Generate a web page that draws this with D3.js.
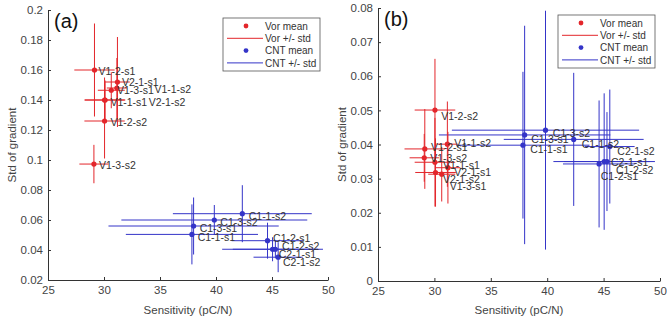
<!DOCTYPE html>
<html>
<head>
<meta charset="utf-8">
<script src="https://cdn.jsdelivr.net/npm/d3@7"></script>
<style>
  body { margin: 0; background: #fff; }
  svg { font-family: "Liberation Sans", Arial, sans-serif; }
</style>
</head>
<body>
<div id="chart"></div>
<script>
// samples (same order in every array)
const names = ['V1-1-s1', 'V1-1-s2', 'V1-2-s1', 'V1-2-s2', 'V1-3-s1', 'V1-3-s2', 'V2-1-s1', 'V2-1-s2',
               'C1-1-s1', 'C1-1-s2', 'C1-2-s1', 'C1-2-s2', 'C1-3-s1', 'C1-3-s2', 'C2-1-s1', 'C2-1-s2'];
const sensMean = [30.05, 31.15, 29.15, 30.05, 30.65, 29.1, 31.2, 30.1,
                  37.85, 42.35, 44.6, 45.05, 38.0, 39.85, 45.3, 45.55];
const sensStd = [1.8, 0.9, 1.8, 1.8, 1.2, 1.3, 1.1, 1.8,
                 5.9, 6.2, 3.2, 4.5, 7.6, 8.3, 3.8, 2.2];

// panel (a)
const gradMeanA = [0.140, 0.148, 0.160, 0.126, 0.1465, 0.0973, 0.152, 0.140,
                   0.0504, 0.0642, 0.0462, 0.0405, 0.056, 0.060, 0.0405, 0.0352];
const gradStdA = [0.015, 0.020, 0.031, 0.025, 0.012, 0.0128, 0.030, 0.013,
                  0.020, 0.019, 0.012, 0.008, 0.019, 0.010, 0.006, 0.010];
const labelXA = [30.57, 34.5, 29.52, 30.57, 31.16, 29.55, 31.6, 33.99,
                 38.36, 42.92, 45.1, 45.9, 38.54, 40.39, 45.6, 45.98];
const labelYA = [0.1382, 0.147, 0.1593, 0.1249, 0.1464, 0.0962, 0.1518, 0.1382,
                 0.0484, 0.0627, 0.0476, 0.0422, 0.0544, 0.0584, 0.0373, 0.0316];

// panel (b)
const gradMeanB = [0.0348, 0.0401, 0.0387, 0.0501, 0.0313, 0.0361, 0.0332, 0.0318,
                   0.0398, 0.0415, 0.0343, 0.0350, 0.0428, 0.0442, 0.0350, 0.0394];
const gradStdB = [0.013, 0.0125, 0.0117, 0.015, 0.008, 0.007, 0.0105, 0.010,
                  0.0215, 0.0195, 0.0186, 0.020, 0.032, 0.035, 0.0145, 0.0167];
const labelXB = [30.76, 31.76, 29.69, 30.61, 31.35, 29.63, 31.76, 30.76,
                 38.49, 43.06, 44.75, 46.1, 38.58, 40.5, 45.66, 46.22];
const labelYB = [0.0338, 0.0405, 0.0392, 0.0484, 0.0279, 0.0359, 0.0318, 0.0299,
                 0.0387, 0.0401, 0.0306, 0.0325, 0.0415, 0.0433, 0.0348, 0.0379];

const xTicks = [25, 30, 35, 40, 45, 50];
const yTicksA = [0.02, 0.04, 0.06, 0.08, 0.1, 0.12, 0.14, 0.16, 0.18, 0.2];
const yTicksB = [0, 0.01, 0.02, 0.03, 0.04, 0.05, 0.06, 0.07, 0.08];
const legendItems = ['Vor mean', 'Vor +/- std', 'CNT mean', 'CNT +/- std'];

const RED = '#e3262b';
const BLUE = '#3434c8';
const AX = '#333';
const TXT = '#444';

const svg = d3.select('#chart').append('svg')
    .attr('width', 667)
    .attr('height', 320);

function drawPanel(opt) {
    const x = d3.scaleLinear().domain([25, 50]).range([opt.left, opt.right]);
    const y = d3.scaleLinear().domain(opt.yDomain).range([opt.bottom, opt.top]);
    const g = svg.append('g');

    // axes, MATLAB style (ticks inside, no box)
    const xAxis = d3.axisBottom(x).tickValues(xTicks).tickSizeInner(-3).tickSizeOuter(0).tickPadding(6);
    const yAxis = d3.axisLeft(y).tickValues(opt.yTicks).tickSizeInner(-3).tickSizeOuter(0).tickPadding(5)
        .tickFormat(d => String(+d.toFixed(2)));
    const gx = g.append('g').attr('transform', `translate(0,${opt.bottom})`).call(xAxis);
    const gy = g.append('g').attr('transform', `translate(${opt.left},0)`).call(yAxis);
    [gx, gy].forEach(a => {
        a.select('.domain').attr('stroke', AX);
        a.selectAll('.tick line').attr('stroke', AX);
        a.selectAll('.tick text').attr('fill', TXT).style('font-size', '11.5px');
    });

    g.append('text')
        .attr('x', (opt.left + opt.right) / 2)
        .attr('y', 314)
        .attr('text-anchor', 'middle')
        .attr('fill', TXT)
        .style('font-size', '11.5px')
        .text('Sensitivity (pC/N)');
    g.append('text')
        .attr('transform', `translate(${opt.left - 32},${(opt.top + opt.bottom) / 2}) rotate(-90)`)
        .attr('text-anchor', 'middle')
        .attr('fill', TXT)
        .style('font-size', '11.5px')
        .text('Std of gradient');

    const idx = d3.range(names.length);
    const col = i => names[i][0] === 'V' ? RED : BLUE;

    // horizontal (sensitivity) error bars
    g.selectAll('.hbar').data(idx).enter().append('line')
        .attr('x1', i => x(sensMean[i] - sensStd[i]))
        .attr('x2', i => x(sensMean[i] + sensStd[i]))
        .attr('y1', i => y(opt.mean[i]))
        .attr('y2', i => y(opt.mean[i]))
        .attr('stroke', col).attr('stroke-width', 1);
    // vertical (gradient) error bars
    g.selectAll('.vbar').data(idx).enter().append('line')
        .attr('x1', i => x(sensMean[i]))
        .attr('x2', i => x(sensMean[i]))
        .attr('y1', i => y(opt.mean[i] - opt.std[i]))
        .attr('y2', i => y(opt.mean[i] + opt.std[i]))
        .attr('stroke', col).attr('stroke-width', 1);
    g.selectAll('.pt').data(idx).enter().append('circle')
        .attr('cx', i => x(sensMean[i]))
        .attr('cy', i => y(opt.mean[i]))
        .attr('r', 2.6)
        .attr('fill', col);
    g.selectAll('.lbl').data(idx).enter().append('text')
        .attr('x', i => x(opt.labelX[i]))
        .attr('y', i => y(opt.labelY[i]))
        .attr('dy', '0.36em')
        .attr('fill', '#333')
        .style('font-size', '10.5px')
        .text(i => names[i]);

    g.append('text')
        .attr('x', opt.left + 6)
        .attr('y', opt.top + 18)
        .style('font-size', '20px')
        .attr('fill', '#111')
        .text(opt.tag);

    // legend
    const lg = g.append('g').attr('transform', `translate(${opt.legX},${opt.legY})`);
    lg.append('rect').attr('width', 97).attr('height', 53)
        .attr('fill', '#fff').attr('stroke', '#555').attr('stroke-width', 0.8);
    legendItems.forEach((t, k) => {
        const cy = 8 + k * 12.3;
        const c = k < 2 ? RED : BLUE;
        if (k % 2 === 0) {
            lg.append('circle').attr('cx', 23).attr('cy', cy).attr('r', 2.4).attr('fill', c);
        } else {
            lg.append('line').attr('x1', 4).attr('x2', 40).attr('y1', cy).attr('y2', cy)
                .attr('stroke', c).attr('stroke-width', 1);
        }
        lg.append('text').attr('x', 42).attr('y', cy).attr('dy', '0.36em')
            .attr('fill', '#333').style('font-size', '10px').text(t);
    });
}

drawPanel({ left: 48, right: 328, top: 10, bottom: 280, yDomain: [0.02, 0.2], yTicks: yTicksA,
            mean: gradMeanA, std: gradStdA, labelX: labelXA, labelY: labelYA,
            tag: '(a)', legX: 223, legY: 18 });
drawPanel({ left: 378, right: 660, top: 8, bottom: 281, yDomain: [0, 0.08], yTicks: yTicksB,
            mean: gradMeanB, std: gradStdB, labelX: labelXB, labelY: labelYB,
            tag: '(b)', legX: 558, legY: 15 });
</script>
</body>
</html>
